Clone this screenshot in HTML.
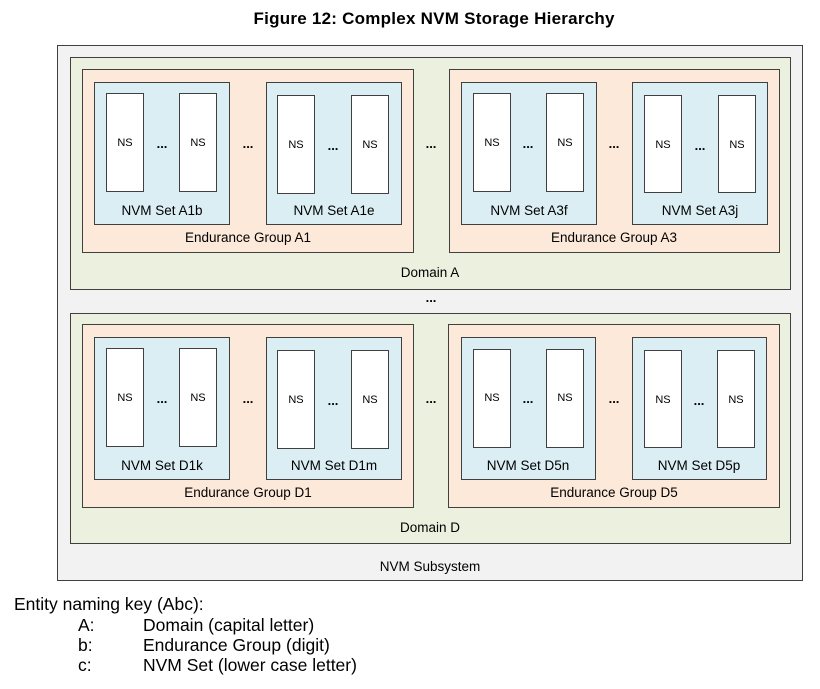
<!DOCTYPE html>
<html><head><meta charset="utf-8"><style>
html,body{margin:0;padding:0;background:#fff;}
svg{display:block;}
.t{font-family:"Liberation Sans",sans-serif;fill:#000;}
</style></head><body>
<svg width="820" height="689" xmlns="http://www.w3.org/2000/svg">
<text class="t" x="434" y="24" font-size="17" font-weight="bold" text-anchor="middle" textLength="361">Figure 12: Complex NVM Storage Hierarchy</text>
<rect x="57.5" y="45.5" width="745" height="535" fill="#f2f2f2" stroke="#404040"/>
<text class="t" x="430" y="571" font-size="13.5" text-anchor="middle">NVM Subsystem</text>
<g id="dA">
<rect x="70.5" y="57.5" width="720" height="232" fill="#ebf1de" stroke="#404040"/>
<text class="t" x="430" y="277" font-size="13.5" text-anchor="middle">Domain A</text>
<rect x="82.5" y="69.5" width="331" height="183" fill="#fde9d9" stroke="#404040"/>
<rect x="449.5" y="69.5" width="330" height="183" fill="#fde9d9" stroke="#404040"/>
<text class="t" x="248" y="242" font-size="13.5" text-anchor="middle">Endurance Group A1</text>
<text class="t" x="614" y="242" font-size="13.5" text-anchor="middle">Endurance Group A3</text>
<rect x="94.5" y="82.5" width="135" height="142" fill="#dbeef3" stroke="#404040"/>
<rect x="266.5" y="82.5" width="135" height="142" fill="#dbeef3" stroke="#404040"/>
<rect x="461.5" y="82.5" width="135" height="142" fill="#dbeef3" stroke="#404040"/>
<rect x="632.5" y="82.5" width="135" height="142" fill="#dbeef3" stroke="#404040"/>
<text class="t" x="162" y="215" font-size="13.5" text-anchor="middle">NVM Set A1b</text>
<text class="t" x="334" y="215" font-size="13.5" text-anchor="middle">NVM Set A1e</text>
<text class="t" x="529" y="215" font-size="13.5" text-anchor="middle">NVM Set A3f</text>
<text class="t" x="700" y="215" font-size="13.5" text-anchor="middle">NVM Set A3j</text>
</g>
<g id="dD">
<rect x="70.5" y="313.5" width="720" height="230" fill="#ebf1de" stroke="#404040"/>
<text class="t" x="430" y="532" font-size="13.5" text-anchor="middle">Domain D</text>
<rect x="82.5" y="324.5" width="331" height="183" fill="#fde9d9" stroke="#404040"/>
<rect x="448.5" y="324.5" width="331" height="183" fill="#fde9d9" stroke="#404040"/>
<text class="t" x="248" y="497" font-size="13.5" text-anchor="middle">Endurance Group D1</text>
<text class="t" x="614" y="497" font-size="13.5" text-anchor="middle">Endurance Group D5</text>
<rect x="94.5" y="337.5" width="135" height="142" fill="#dbeef3" stroke="#404040"/>
<rect x="266.5" y="337.5" width="135" height="142" fill="#dbeef3" stroke="#404040"/>
<rect x="461.5" y="337.5" width="134" height="142" fill="#dbeef3" stroke="#404040"/>
<rect x="632.5" y="337.5" width="134" height="142" fill="#dbeef3" stroke="#404040"/>
<text class="t" x="162" y="470" font-size="13.5" text-anchor="middle">NVM Set D1k</text>
<text class="t" x="334" y="470" font-size="13.5" text-anchor="middle">NVM Set D1m</text>
<text class="t" x="528" y="470" font-size="13.5" text-anchor="middle">NVM Set D5n</text>
<text class="t" x="699" y="470" font-size="13.5" text-anchor="middle">NVM Set D5p</text>
</g>
<g fill="#fff" stroke="#404040">
<rect x="106.5" y="93.5" width="37" height="98"/><rect x="179.5" y="93.5" width="37" height="98"/>
<rect x="277.5" y="95.5" width="37" height="98"/><rect x="351.5" y="95.5" width="37" height="98"/>
<rect x="473.5" y="93.5" width="37" height="98"/><rect x="546.5" y="93.5" width="37" height="98"/>
<rect x="644.5" y="95.5" width="37" height="97"/><rect x="718.5" y="95.5" width="37" height="97"/>
<rect x="106.5" y="348.5" width="37" height="98"/><rect x="179.5" y="348.5" width="37" height="98"/>
<rect x="277.5" y="350.5" width="37" height="98"/><rect x="351.5" y="350.5" width="37" height="98"/>
<rect x="473.5" y="349.5" width="37" height="98"/><rect x="546.5" y="349.5" width="37" height="98"/>
<rect x="644.5" y="350.5" width="37" height="97"/><rect x="717.5" y="350.5" width="37" height="97"/>
</g>
<g class="t" font-size="11" text-anchor="middle">
<text x="125" y="146">NS</text><text x="198" y="146">NS</text>
<text x="296" y="148">NS</text><text x="370" y="148">NS</text>
<text x="492" y="146">NS</text><text x="565" y="146">NS</text>
<text x="663" y="148">NS</text><text x="737" y="148">NS</text>
<text x="125" y="401">NS</text><text x="198" y="401">NS</text>
<text x="296" y="403">NS</text><text x="370" y="403">NS</text>
<text x="492" y="401">NS</text><text x="565" y="401">NS</text>
<text x="663" y="403">NS</text><text x="736" y="403">NS</text>
</g>
<g class="t" font-size="13" font-weight="bold" text-anchor="middle">
<text x="162" y="148">...</text><text x="333" y="150">...</text><text x="528" y="148">...</text><text x="700" y="150">...</text>
<text x="248" y="148">...</text><text x="614" y="148">...</text><text x="431" y="148">...</text>
<text x="431" y="302">...</text>
<text x="162" y="403">...</text><text x="333" y="405">...</text><text x="528" y="403">...</text><text x="699" y="405">...</text>
<text x="248" y="403">...</text><text x="614" y="403">...</text><text x="431" y="403">...</text>
</g>
<g class="t" font-size="17.5">
<text x="14" y="610">Entity naming key (Abc):</text>
<text x="78" y="631">A:</text><text x="143" y="631">Domain (capital letter)</text>
<text x="78" y="651">b:</text><text x="143" y="651">Endurance Group (digit)</text>
<text x="78" y="671">c:</text><text x="143" y="671">NVM Set (lower case letter)</text>
</g>
</svg>
</body></html>
